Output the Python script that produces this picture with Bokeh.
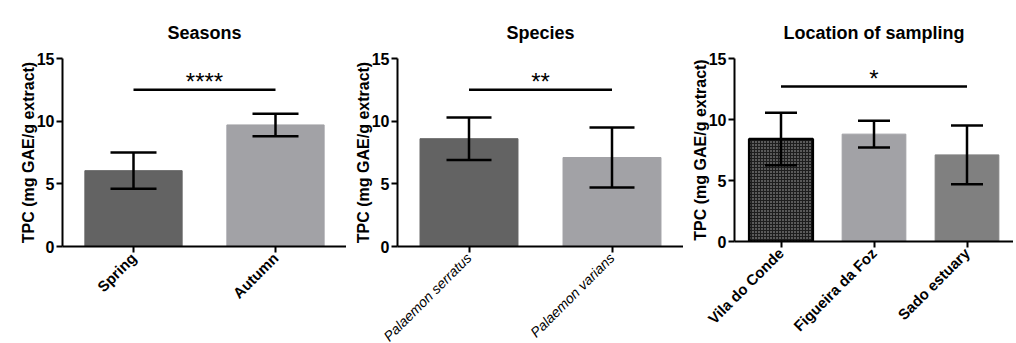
import math
from bokeh.plotting import figure
from bokeh.layouts import row
from bokeh.models import ColumnDataSource, Whisker, TeeHead, FactorRange, Range1d
from bokeh.embed import file_html
from bokeh.resources import INLINE

# ---- data ----
seasons = ["Spring", "Autumn"]
seasons_mean = [6.05, 9.7]
seasons_sd = [1.45, 0.9]

species = ["Palaemon serratus", "Palaemon varians"]
species_mean = [8.6, 7.1]
species_sd = [1.7, 2.4]

locations = ["Vila do Conde", "Figueira da Foz", "Sado estuary"]
locations_mean = [8.4, 8.8, 7.1]
locations_sd = [2.15, 1.1, 2.4]

sig_seasons = (12.5, "****")
sig_species = (12.5, "**")
sig_locations = (12.7, "*")

titles = ["Seasons", "Species", "Location of sampling"]
ylabel = "TPC (mg GAE/g extract)"
yticks = [0, 5, 10, 15]

FONT = "Liberation Sans"


def panel(title, cats, means, sds, colors, sig, fw, fh, label_style, label_size,
          min_left, top, cap, title_standoff, hatch=None):
    p = figure(frame_width=fw, frame_height=fh, x_range=FactorRange(*cats, range_padding=0),
               y_range=Range1d(0, 15), output_backend="svg", toolbar_location=None,
               min_border_left=min_left, min_border_right=0, min_border_top=top,
               min_border_bottom=0)
    p.outline_line_color = None
    p.grid.visible = False
    p.title.text = title
    p.title.align = "center"
    p.title.text_font = FONT
    p.title.text_font_size = "18px"
    p.title.text_font_style = "bold"
    p.title.text_color = "black"
    p.title.standoff = title_standoff

    src = ColumnDataSource(dict(
        x=cats, top=means, color=colors,
        upper=[m + s for m, s in zip(means, sds)],
        lower=[m - s for m, s in zip(means, sds)],
    ))
    p.vbar(x="x", top="top", width=0.685, source=src, fill_color="color",
           line_color="color", line_width=1)
    if hatch is not None:
        i = hatch
        p.vbar(x=[cats[i]], top=[means[i]], width=0.685, fill_color="#5a5a5a",
               hatch_pattern="cross", hatch_scale=3, hatch_color="#1e1e1e",
               hatch_weight=1, line_color="black", line_width=2.5)

    w = Whisker(base="x", upper="upper", lower="lower", source=src, level="overlay",
                line_color="black", line_width=2.5,
                upper_head=TeeHead(size=cap, line_width=2.5, line_color="black"),
                lower_head=TeeHead(size=cap, line_width=2.5, line_color="black"))
    p.add_layout(w)

    ys, star = sig
    p.segment(x0=[cats[0]], x1=[cats[-1]], y0=[ys], y1=[ys], line_color="black", line_width=2.5)
    p.text(x=[len(cats) / 2], y=[ys + 0.65], text=[star], text_align="center",
           text_baseline="middle", text_font_size="24px", text_color="black",
           text_font={"value": FONT})

    for ax in (p.xaxis[0], p.yaxis[0]):
        ax.axis_line_width = 2
        ax.axis_line_color = "black"
        ax.major_tick_line_width = 2
        ax.major_tick_line_color = "black"
        ax.major_tick_out = 6
        ax.major_tick_in = 0
        ax.minor_tick_line_color = None
        ax.major_label_text_font = FONT
        ax.major_label_text_color = "black"
    p.yaxis.ticker = yticks
    p.yaxis.major_label_text_font_size = "16px"
    p.yaxis.major_label_text_font_style = "bold"
    p.yaxis.major_label_standoff = 2
    p.yaxis.axis_label = ylabel
    p.yaxis.axis_label_text_font = FONT
    p.yaxis.axis_label_text_font_size = "16px"
    p.yaxis.axis_label_text_font_style = "bold"
    p.yaxis.axis_label_text_color = "black"
    p.yaxis.axis_label_standoff = -3
    p.xaxis.major_label_orientation = math.pi / 4
    p.xaxis.major_label_text_font_size = label_size
    p.xaxis.major_label_text_font_style = label_style
    p.xaxis.major_label_standoff = 3
    return p


p1 = panel(titles[0], seasons, seasons_mean, seasons_sd, ["#636363", "#a2a2a6"],
           sig_seasons, 284, 188, "bold", "15px", 62, 53, 46, 31)
p2 = panel(titles[1], species, species_mean, species_sd, ["#636363", "#a2a2a6"],
           sig_species, 286, 188, "italic", "14px", 51, 53, 45, 31)
p3 = panel(titles[2], locations, locations_mean, locations_sd, ["#5a5a5a", "#a2a2a6", "#808080"],
           sig_locations, 279, 183, "bold", "15px", 51, 58, 32, 31, hatch=0)

layout = row(p1, p2, p3)
open("out.html", "w").write(file_html(layout, INLINE))
